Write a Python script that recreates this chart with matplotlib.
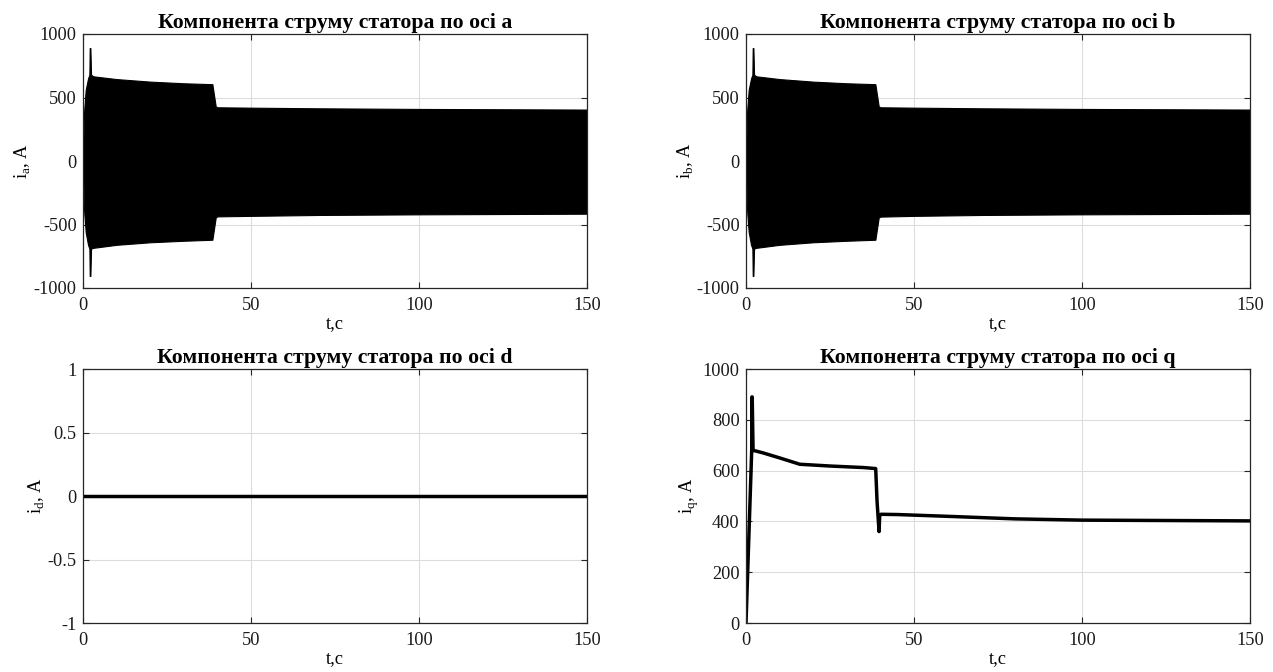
import numpy as np
import matplotlib
matplotlib.use('Agg')
import matplotlib.pyplot as plt

plt.rcParams['font.family'] = ['Liberation Serif', 'DejaVu Serif']
plt.rcParams['mathtext.fontset'] = 'custom'
plt.rcParams['mathtext.rm'] = 'Liberation Serif'
plt.rcParams['axes.unicode_minus'] = False
plt.rcParams['font.size'] = 14

# envelope of the phase currents (upper / lower)
t_env = [0, 0.3, 0.8, 1.5, 1.9, 2.0, 2.2, 2.4, 3, 10, 20, 30, 38.5, 39.5, 40, 50, 70, 100, 130, 150]
ia_up = [0, 380, 560, 650, 680, 889, 889, 680, 667, 645, 625, 612, 605, 430, 423, 420, 415, 410, 407, 405]
ia_lo = [0, -380, -560, -660, -690, -905, -905, -690, -684, -660, -640, -628, -620, -445, -436, -432, -425, -420, -417, -415]
ib_up = [0, 380, 560, 650, 680, 889, 889, 680, 667, 645, 625, 612, 605, 430, 423, 420, 415, 410, 407, 405]
ib_lo = [0, -380, -560, -660, -690, -905, -905, -690, -684, -660, -640, -628, -620, -445, -438, -432, -425, -420, -417, -415]

# d-axis current
t_d = [0, 150]
i_d = [0, 0]

# q-axis current
t_q = [0, 1.7, 1.75, 1.85, 2.1, 5, 10, 16, 25, 35, 38.6, 39.0, 39.6, 39.8, 40.2, 45, 60, 80, 100, 150]
i_q = [0, 680, 890, 890, 680, 670, 650, 625, 618, 612, 608, 480, 360, 425, 428, 427, 420, 410, 405, 402]

W, H = 1273, 672
fig = plt.figure(figsize=(W / 100, H / 100), dpi=100)

pos = {
    'a': [83 / W, 1 - 288 / H, 504 / W, 254 / H],
    'b': [746 / W, 1 - 288 / H, 504 / W, 254 / H],
    'd': [83 / W, 1 - 623 / H, 504 / W, 254 / H],
    'q': [746 / W, 1 - 623 / H, 504 / W, 254 / H],
}
spine_col = '#262626'

# title width in the reference is about 352 px, "1000" about 37 px
fig.canvas.draw()
r = fig.canvas.get_renderer()
probe = fig.text(0, 0, 'Компонента струму статора по осі a', fontsize=14, fontweight='bold')
title_fs = 14 * 352 / probe.get_window_extent(r).width
probe.remove()
probe = fig.text(0, 0, '1000', fontsize=14)
tick_fs = 14 * 37 / probe.get_window_extent(r).width
probe.remove()


def style(ax, title, ylab):
    ax.set_title(title, fontweight='bold', fontsize=title_fs, pad=4)
    ax.set_xlim(0, 150)
    ax.set_xticks([0, 50, 100, 150])
    ax.set_xlabel('t,c', labelpad=1, fontsize=tick_fs)
    ax.set_ylabel(ylab, labelpad=1, fontsize=tick_fs)
    ax.grid(True, color='#dcdcdc', lw=0.8)
    ax.set_axisbelow(True)
    ax.tick_params(direction='in', top=True, right=True, length=4,
                   color=spine_col, labelcolor='#1a1a1a', labelsize=tick_fs)
    ax.tick_params(axis='x', pad=6.5)
    ax.tick_params(axis='y', pad=4.5)
    for s in ax.spines.values():
        s.set_color(spine_col)
        s.set_linewidth(0.9)


ax = fig.add_axes(pos['a'])
ax.fill_between(t_env, ia_lo, ia_up, color='black', lw=0.8, edgecolor='black')
ax.set_ylim(-1000, 1000)
ax.set_yticks([-1000, -500, 0, 500, 1000])
style(ax, 'Компонента струму статора по осі a', r'i$_\mathrm{a}$, A')

ax = fig.add_axes(pos['b'])
ax.fill_between(t_env, ib_lo, ib_up, color='black', lw=0.8, edgecolor='black')
ax.set_ylim(-1000, 1000)
ax.set_yticks([-1000, -500, 0, 500, 1000])
style(ax, 'Компонента струму статора по осі b', r'i$_\mathrm{b}$, A')

ax = fig.add_axes(pos['d'])
ax.plot(t_d, i_d, color='black', lw=2.5)
ax.set_ylim(-1, 1)
ax.set_yticks([-1, -0.5, 0, 0.5, 1])
ax.set_yticklabels(['-1', '-0.5', '0', '0.5', '1'])
style(ax, 'Компонента струму статора по осі d', r'i$_\mathrm{d}$, A')

ax = fig.add_axes(pos['q'])
ax.plot(t_q, i_q, color='black', lw=2.5)
ax.set_ylim(0, 1000)
ax.set_yticks([0, 200, 400, 600, 800, 1000])
style(ax, 'Компонента струму статора по осі q', r'i$_\mathrm{q}$, A')

fig.savefig('out.png', dpi=100)
